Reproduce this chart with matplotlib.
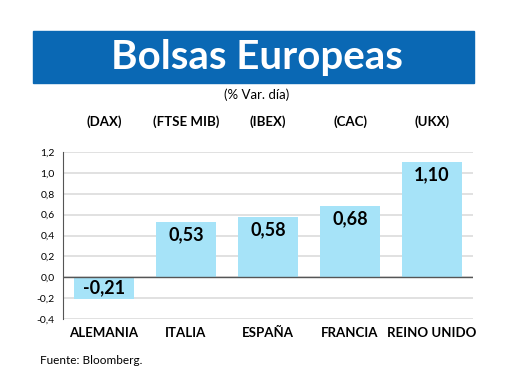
import numpy as np
import matplotlib
matplotlib.use("Agg")
import matplotlib.pyplot as plt
from matplotlib.patches import Rectangle

# data
paises = ["ALEMANIA", "ITALIA", "ESPAÑA", "FRANCIA", "REINO UNIDO"]
indices = ["(DAX)", "(FTSE MIB)", "(IBEX)", "(CAC)", "(UKX)"]
variacion = [-0.21, 0.53, 0.58, 0.68, 1.10]
y_ticks = [-0.4, -0.2, 0.0, 0.2, 0.4, 0.6, 0.8, 1.0, 1.2]

BLUE = "#0a68b4"
BAR = "#a6e3f8"

plt.rcParams["font.family"] = ["Lato", "DejaVu Sans"]

fig = plt.figure(figsize=(5.2, 3.9), dpi=100)
fig.patch.set_facecolor("white")

# title banner
fig.patches.append(Rectangle((33 / 520, 1 - 83 / 390), 441 / 520, 52 / 390,
                             transform=fig.transFigure, color=BLUE, zorder=0))
fig.text(257 / 520, 1 - 57 / 390, "Bolsas Europeas", color="white",
         fontsize=29, fontweight="bold", ha="center", va="center")
fig.text(257 / 520, 1 - 95 / 390, "(% Var. día)", fontsize=9.5,
         ha="center", va="center")

ax = fig.add_axes([63 / 520, 1 - 319 / 390, 410 / 520, 167 / 390])
x = np.arange(len(paises))
ax.bar(x, variacion, width=0.72, color=BAR, zorder=2)

ax.set_xlim(-0.5, len(paises) - 0.5)
ax.set_ylim(-0.4, 1.2)
ax.set_yticks(y_ticks)
ax.set_yticklabels([f"{t:.1f}".replace(".", ",") for t in y_ticks], fontsize=7.5)
ax.yaxis.grid(True, color="#dcdcdc", linewidth=1.2, zorder=0)
ax.axhline(0, color="#555555", linewidth=1.0, zorder=3)
ax.tick_params(axis="y", length=0, pad=6)
ax.tick_params(axis="x", length=0, pad=6)
ax.set_xticks(x)
ax.set_xticklabels(paises, fontsize=9.5, fontweight="bold")
for s in ["top", "right", "bottom"]:
    ax.spines[s].set_visible(False)
ax.spines["left"].set_color("#555555")
ax.spines["left"].set_linewidth(0.8)

# value labels
for xi, v in zip(x, variacion):
    txt = f"{v:.2f}".replace(".", ",")
    if v >= 0:
        ax.text(xi, v - 0.04, txt, ha="center", va="top", fontsize=13,
                fontweight="bold", zorder=4)
    else:
        ax.text(xi, v / 2, txt, ha="center", va="center", fontsize=13,
                fontweight="bold", zorder=4)

# index names above the plot
y_idx = (319 - 122) / 167
for xi, name in zip(x, indices):
    ax.text(xi, y_idx, name, transform=ax.get_xaxis_transform(), ha="center",
            va="center", fontsize=9.5, fontweight="bold")

fig.text(40 / 520, 1 - 360 / 390, "Fuente: Bloomberg.", fontsize=8.5,
         ha="left", va="center")

fig.savefig("out.png", dpi=100)
